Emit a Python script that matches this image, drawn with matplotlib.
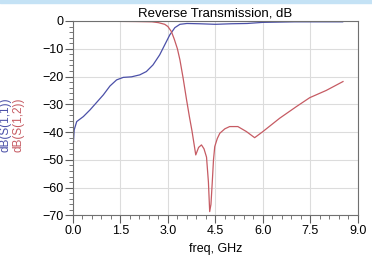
import matplotlib
matplotlib.use("Agg")
import matplotlib.pyplot as plt
from matplotlib.ticker import MultipleLocator
from matplotlib.patches import Rectangle

# S(1,1) in dB
s11_freq_ghz = [0.0, 0.02, 0.04, 0.12, 0.33, 0.54, 0.75, 0.96, 1.17, 1.38, 1.59,
                1.85, 2.11, 2.32, 2.53, 2.74, 2.90, 3.06, 3.22, 3.38, 3.6, 4.0,
                4.5, 5.0, 5.5, 6.0, 6.5, 7.0, 7.5, 8.0, 8.52]
s11_db = [-47.0, -43.0, -39.2, -36.2, -34.4, -32.0, -29.3, -26.6, -23.4, -21.2,
          -20.3, -20.1, -19.4, -18.2, -15.8, -12.2, -8.6, -5.0, -2.4, -1.2,
          -0.9, -1.0, -1.2, -1.0, -0.9, -0.5, -0.4, -0.3, -0.3, -0.3, -0.3]

# S(1,2) in dB
s12_freq_ghz = [0.0, 1.0, 2.0, 2.5, 2.7, 2.9, 3.0, 3.11, 3.2, 3.3, 3.38, 3.48,
                3.59, 3.68, 3.76, 3.88, 3.97, 4.06, 4.14, 4.22, 4.28, 4.32,
                4.36, 4.40, 4.44, 4.48, 4.56, 4.64, 4.8, 4.95, 5.21, 5.48,
                5.74, 6.0, 6.53, 7.06, 7.48, 8.0, 8.53]
s12_db = [-0.1, -0.1, -0.2, -0.3, -0.6, -1.2, -2.0, -3.8, -6.5, -10.0, -14.0,
          -20.5, -28.4, -34.5, -39.5, -48.2, -45.5, -44.6, -46.0, -49.0,
          -58.0, -68.6, -66.0, -58.3, -50.0, -45.2, -42.3, -40.4, -38.8,
          -38.0, -38.0, -39.8, -42.0, -39.8, -35.0, -30.8, -27.6, -25.0, -21.8]

plt.rcParams["font.family"] = ["Liberation Sans", "DejaVu Sans"]

fig = plt.figure(figsize=(3.72, 2.59), dpi=100)
fig.patches.append(Rectangle((0, 0.99), 1, 0.01, transform=fig.transFigure,
                             color="#c4e2f5", zorder=0))
ax = fig.add_axes([0.196, 0.168, 0.766, 0.751])

ax.plot(s11_freq_ghz, s11_db, color="#4b50a8", linewidth=0.9)
ax.plot(s12_freq_ghz, s12_db, color="#c65b63", linewidth=0.9)

ax.set_xlim(0, 9)
ax.set_ylim(-70, 0)
ax.xaxis.set_major_locator(MultipleLocator(1.5))
ax.xaxis.set_minor_locator(MultipleLocator(0.3))
ax.yaxis.set_major_locator(MultipleLocator(10))
ax.yaxis.set_minor_locator(MultipleLocator(2))
ax.xaxis.set_major_formatter(plt.FormatStrFormatter("%.1f"))
ax.grid(True, which="major", color="#dcdcdc", linewidth=0.8)
ax.tick_params(which="major", length=6, width=0.8, color="#606060",
               labelsize=9, pad=1)
ax.tick_params(which="minor", length=3, width=0.6, color="#606060")
for spine in ax.spines.values():
    spine.set_color("#707070")
    spine.set_linewidth(0.8)

ax.set_title("Reverse Transmission, dB", fontsize=9.5, pad=3)
ax.set_xlabel("freq, GHz", fontsize=9, labelpad=4)

fig.text(0.016, 0.52, "dB(S(1,1))", rotation=90, color="#4b50a8",
         fontsize=8.5, ha="center", va="center")
fig.text(0.050, 0.52, "dB(S(1,2))", rotation=90, color="#c65b63",
         fontsize=8.5, ha="center", va="center")

fig.savefig("out.png", dpi=100)
